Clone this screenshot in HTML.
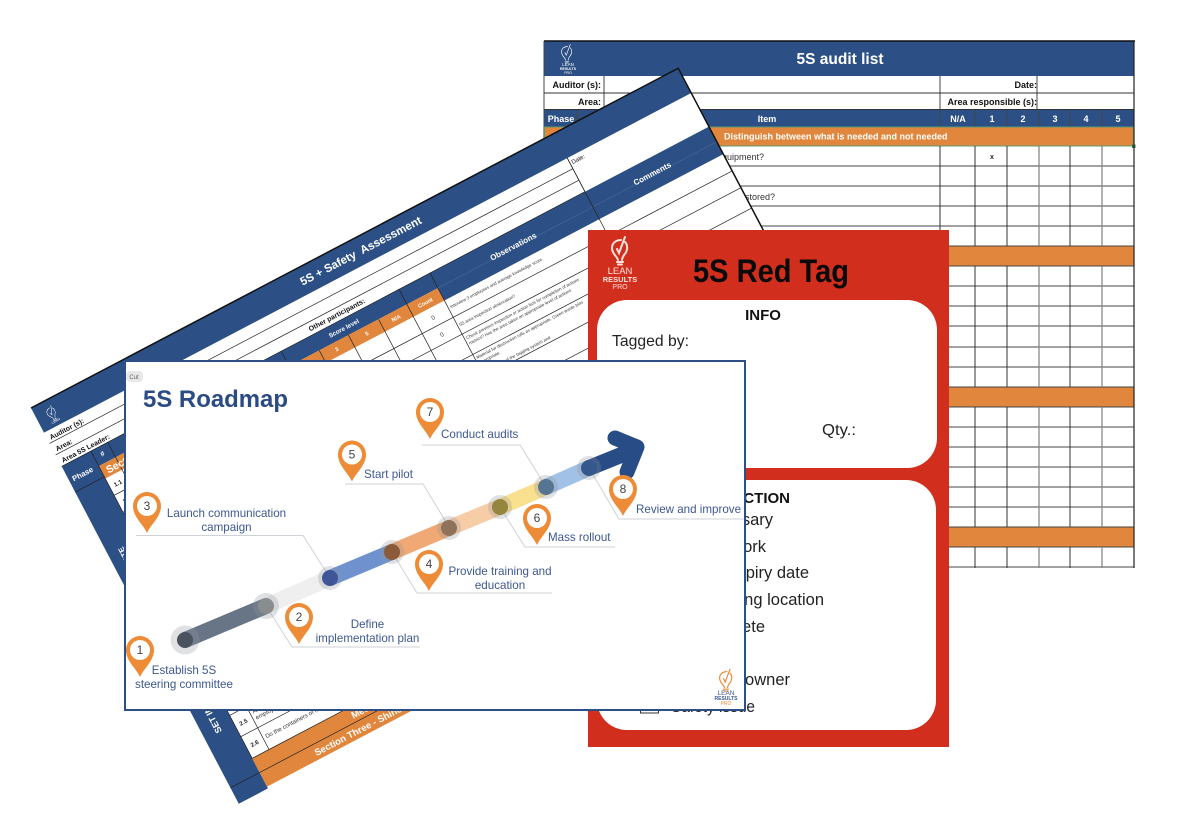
<!DOCTYPE html>
<html><head><meta charset="utf-8"><style>
html,body{margin:0;padding:0;background:#fff;width:1200px;height:838px;overflow:hidden}
svg{display:block;filter:blur(.35px)}
text{font-family:"Liberation Sans",sans-serif}
.rm{font-size:11.6px;fill:#3d5791}
.n{font-size:12px;fill:#444;text-anchor:middle}
.tag{font-size:16.5px;fill:#222;text-anchor:end}
.a{font-size:9px;font-weight:bold;fill:#111;text-anchor:end}
.h{font-size:9px;font-weight:bold;fill:#fff;text-anchor:middle}
.o{font-size:4.4px;fill:#333}
</style></head><body>
<svg width="1200" height="838" viewBox="0 0 1200 838" xmlns="http://www.w3.org/2000/svg">
<defs>
<g id="pin"><path d="M0 27C-4 18-14 11-14 0A14 14 0 1 1 14 0C14 11 4 18 0 27Z" fill="#ed8b36"/><circle r="10" fill="#fff"/></g>
<g id="bulb" fill="none" stroke-linecap="round"><path d="M-2 12C-3 8-8 6-8 0C-8-5-4-8 1-8M5-6C8-3 8 3 4 7C3 9 2 10 2 12M-3 1L-1 5L5-11"/><path d="M-3 14H3M-2 16.500H2"/></g>
</defs>

<!-- audit sheet -->
<g>
<rect x="544" y="41" width="590" height="526" fill="#fff"/>
<rect x="544" y="41" width="590" height="35" fill="#2c5085"/>
<rect x="544" y="109.500" width="590" height="17.500" fill="#2c5085"/>
<path d="M544 41H1135" stroke="#111" stroke-width="1.500"/>
<use href="#bulb" x="567" y="52" stroke="#fff" stroke-width="1" transform="translate(187 17) scale(.67)"/>
<text x="568" y="66" font-size="4.500" fill="#fff" text-anchor="middle">LEAN</text>
<text x="568" y="70" font-size="3.500" font-weight="bold" fill="#fff" text-anchor="middle">RESULTS</text>
<text x="568" y="74" font-size="3.500" fill="#fff" text-anchor="middle">PRO</text>
<text x="840" y="64" font-size="15.500" font-weight="bold" fill="#fff" text-anchor="middle">5S audit list</text>
<path d="M544 41V138M604 76V109M940 76V109M1037 76V109M577 109V127M940 109V127M975 109V127M1007 109V127M1039 109V127M1070 109V127M1102 109V127" stroke="#444" stroke-width="1" fill="none"/>
<path d="M544 93H1134M544 109.500H1134" stroke="#333" stroke-width="1"/>
<text class="a" x="601" y="88">Auditor (s):</text>
<text class="a" x="601" y="105">Area:</text>
<text class="a" x="1037" y="88">Date:</text>
<text class="a" x="1037" y="105">Area responsible (s):</text>
<text class="h" x="561" y="122">Phase</text>
<text class="h" x="767" y="122">Item</text>
<text class="h" x="958" y="122">N/A</text>
<text class="h" x="992" y="122">1</text>
<text class="h" x="1023" y="122">2</text>
<text class="h" x="1055" y="122">3</text>
<text class="h" x="1086" y="122">4</text>
<text class="h" x="1118" y="122">5</text>
<g fill="#e0873d" stroke="#3f3020" stroke-width=".8">
<rect x="940" y="246" width="194" height="20"/>
<rect x="940" y="387" width="194" height="20"/>
<rect x="940" y="527" width="194" height="20"/>
</g>
<rect x="544.500" y="127" width="589" height="19" fill="#e0873d" stroke="#5d9a6e" stroke-width="1"/>
<rect x="1132" y="144.500" width="3.500" height="3.500" fill="#2f7d4b"/>
<text x="724" y="139.500" font-size="9" font-weight="bold" fill="#fff">Distinguish between what is needed and not needed</text>
<path d="M700 166H1134M700 186H1134M700 206H1134M700 226H1134M700 246H1134M940 266H1134M940 286H1134M940 306H1134M940 326H1134M940 347H1134M940 367H1134M940 387H1134M940 407H1134M940 427H1134M940 447H1134M940 467H1134M940 487H1134M940 507H1134M940 527H1134M940 547H1134M940 567H1134" stroke="#444" stroke-width="1"/>
<path d="M940 146V246M975 146V246M1007 146V246M1070 146V246M975 266V387M1007 266V387M1070 266V387M975 407V527M1007 407V527M1070 407V527M975 547V568M1007 547V568M1070 547V568" stroke="#333" stroke-width="1" fill="none"/>
<path d="M1039 146V246M1102 146V246M1039 266V387M1102 266V387M1039 407V527M1102 407V527M1039 547V568M1102 547V568" stroke="#888" stroke-width="1.300" fill="none"/>
<path d="M1134 41V568" stroke="#222" stroke-width="1.200"/>
<text x="764" y="160" font-size="9" fill="#333" text-anchor="end">equipment?</text>
<text x="775" y="200" font-size="9" fill="#333" text-anchor="end">stored?</text>
<text x="992" y="159" font-size="7" font-weight="bold" fill="#222" text-anchor="middle">x</text>
</g>

<!-- rotated assessment sheet -->
<g transform="translate(31 408) rotate(-27.7)">
<rect width="731" height="447" fill="#fff"/>
<rect width="731" height="28" fill="#2c5085"/>
<rect x="0" y="28" width="33" height="38" fill="#fff"/>
<rect x="0" y="66" width="33" height="381" fill="#2c5085"/>
<rect x="33" y="66" width="698" height="17" fill="#2c5085"/>
<rect x="416" y="83" width="315" height="14" fill="#2c5085"/>
<rect x="33" y="83" width="383" height="14" fill="#e0873d" />
<rect x="33" y="413" width="698" height="32" fill="#e0873d"/>
<path d="M0 0H731V447" stroke="#111" stroke-width="1.500" fill="none"/>
<path d="M0 40H591M0 53H591M0 66H591M591 28V66" stroke="#222" stroke-width=".7" fill="none"/>
<path d="M33 116H731M33 135H731M33 158H731M33 183H731M33 206H731M33 230H731M33 254H731M33 278H731M33 302H731M33 326H731M33 340.500H731M33 364.500H731M33 388.500H731M33 413H731M0 429H731" stroke="#222" stroke-width=".7" fill="none"/>
<path d="M33 66V97M0 95H33M33 97V413M52 66V413M248 66V413M282 83V413M315 83V413M349 83V413M381 66V413M416 66V413M591 28V413" stroke="#222" stroke-width=".7" fill="none"/>
<rect x="258" y="53.500" width="112" height="12" fill="#fff"/>
<g transform="translate(16 13) scale(.55)"><use href="#bulb" stroke="#fff" stroke-width="1"/></g>
<text x="16" y="24" font-size="3.500" fill="#fff" text-anchor="middle">LEAN</text>
<text x="365" y="18" font-size="11.500" font-weight="bold" fill="#fff" text-anchor="middle" xml:space="preserve">5S + Safety  Assessment</text>
<text x="593" y="36" font-size="6" fill="#111">Date:</text>
<text x="3" y="37.500" font-size="7" font-weight="bold" fill="#111">Auditor (s):</text>
<text x="3" y="50.500" font-size="7" font-weight="bold" fill="#111">Area:</text>
<text x="3" y="63.500" font-size="7" font-weight="bold" fill="#111">Area 5S Leader:</text>
<text x="314" y="62" font-size="7" font-weight="bold" fill="#111" text-anchor="middle">Other participants:</text>
<text x="15" y="85" font-size="7.600" font-weight="bold" fill="#fff" text-anchor="middle">Phase</text>
<text x="42" y="76" font-size="7" font-weight="bold" fill="#fff" text-anchor="middle">#</text>
<text x="38" y="94" font-size="10.500" font-weight="bold" fill="#fff">Section One - Sort</text>
<text x="314" y="77" font-size="6.300" font-weight="bold" fill="#fff" text-anchor="middle">Score level</text>
<text x="298" y="92" font-size="5.500" font-weight="bold" fill="#fff" text-anchor="middle">3</text>
<text x="332" y="92" font-size="5.500" font-weight="bold" fill="#fff" text-anchor="middle">5</text>
<text x="365" y="92" font-size="5.500" font-weight="bold" fill="#fff" text-anchor="middle">N/A</text>
<text x="398" y="92" font-size="5.500" font-weight="bold" fill="#fff" text-anchor="middle">Count</text>
<text x="502" y="84" font-size="8" font-weight="bold" fill="#fff" text-anchor="middle">Observations</text>
<text x="659" y="84" font-size="8" font-weight="bold" fill="#fff" text-anchor="middle">Comments</text>
<text x="398" y="109" font-size="6" fill="#333" text-anchor="middle">0</text>
<text x="398" y="128" font-size="6" fill="#333" text-anchor="middle">0</text>
<text x="42" y="109" font-size="6" font-weight="bold" fill="#222" text-anchor="middle">1.1</text>
<text x="42" y="128" font-size="6" font-weight="bold" fill="#222" text-anchor="middle">1.2</text>
<text class="o" x="418" y="107">Interview 3 employees and average knowledge score.</text>
<text class="o" x="418" y="127">5S area inspection observation?</text>
<text class="o" x="418" y="142">Check previous inspection or action lists for completion of actions</text>
<text class="o" x="418" y="148">metrics? Has the area taken an appropriate level of actions</text>
<text class="o" x="418" y="164">Material for destruction rolls as appropriate. Green waste bins</text>
<text class="o" x="418" y="170">appropriate.</text>
<text class="o" x="418" y="180">Explanation of the tagging system and</text>
<text class="o" x="418" y="186">such a process?</text>
<text class="o" x="418" y="198">Level - 5</text>
<text x="42" y="379" font-size="6" font-weight="bold" fill="#222" text-anchor="middle">2.5</text>
<text x="42" y="403" font-size="6" font-weight="bold" fill="#222" text-anchor="middle">2.6</text>
<text x="55" y="374" font-size="6" fill="#333">Are the areas clearly marked for</text>
<text x="55" y="381" font-size="6" fill="#333">employees</text>
<text x="55" y="402" font-size="6" fill="#333">Do the containers of materials have labels?</text>
<text x="141" y="425" font-size="9.500" font-weight="bold" fill="#fff">Metrics</text>
<text x="91" y="441" font-size="9.500" font-weight="bold" fill="#fff">Section Three - Shine</text>
<g transform="translate(19 375) rotate(-90)"><text font-size="9" font-weight="bold" fill="#fff">SET IN ORDER</text></g>
<g transform="translate(17 165) rotate(-90)"><text font-size="8" font-weight="bold" fill="#fff" text-anchor="end">SEPARATE</text></g>
</g>

<!-- red tag -->
<g>
<rect x="588" y="230" width="361" height="517" fill="#d22e1d"/>
<rect x="597" y="300" width="340" height="168" rx="30" fill="#fff"/>
<rect x="597" y="480" width="339" height="250" rx="30" fill="#fff"/>
<g transform="translate(620 248)"><use href="#bulb" stroke="#fbe2dc" stroke-width="2"/></g>
<text x="620" y="274" font-size="9.500" fill="#fbe2dc" text-anchor="middle">LEAN</text>
<text x="620" y="282" font-size="7.500" font-weight="bold" fill="#fbe2dc" text-anchor="middle">RESULTS</text>
<text x="620" y="289" font-size="7" fill="#fbe2dc" text-anchor="middle">PRO</text>
<text x="693" y="282" font-size="32" font-weight="bold" fill="#0a0a0a" textLength="156" lengthAdjust="spacingAndGlyphs">5S Red Tag</text>
<text x="763" y="320" font-size="15" font-weight="bold" fill="#111" text-anchor="middle">INFO</text>
<text x="612" y="346" font-size="16" fill="#222" textLength="77" lengthAdjust="spacingAndGlyphs">Tagged by:</text>
<text x="822" y="435" font-size="16" fill="#222" textLength="34" lengthAdjust="spacingAndGlyphs">Qty.:</text>
<text x="790" y="503" font-size="15" font-weight="bold" fill="#111" text-anchor="end">ACTION</text>
<text class="tag" x="773" y="525">Unnecessary</text>
<text class="tag" x="766" y="552">Rework</text>
<text class="tag" x="809" y="578">Past expiry date</text>
<text class="tag" x="824" y="605">Wrong location</text>
<text class="tag" x="765" y="632">Obsolete</text>
<text class="tag" x="790" y="685">Unknown owner</text>
<text class="tag" x="755" y="712" textLength="84" lengthAdjust="spacingAndGlyphs">Safety issue</text>
<rect x="640.500" y="700" width="18" height="13" fill="#fff" stroke="#333" stroke-width="1"/>
</g>

<!-- roadmap -->
<g>
<rect x="125" y="361" width="620" height="349" fill="#fff" stroke="#2d4f85" stroke-width="2"/>
<rect x="126" y="371" width="17" height="11" rx="4" fill="#e8e8e8"/>
<text x="134" y="379" font-size="6" fill="#666" text-anchor="middle">Cut</text>
<text x="143" y="407" font-size="24" font-weight="bold" fill="#2b4b84" textLength="145" lengthAdjust="spacingAndGlyphs">5S Roadmap</text>

<g fill="none" stroke="#cfd2d6" stroke-width="1">
<path d="M136 535.500H303L330 578"/>
<path d="M345 484H423L449 527"/>
<path d="M422 445H520L546 487"/>
<path d="M266 606L292 647H420"/>
<path d="M392 552L417 593H552"/>
<path d="M500 507L525 547H615"/>
<path d="M589 468L619 519H744"/>
</g>
<g fill="none" stroke-width="16">
<path d="M185 640L266 606" stroke="#687587"/>
<path d="M266 606L330 578" stroke="#efefef"/>
<path d="M330 578L392 552" stroke="#6f92cf"/>
<path d="M392 552L449 528" stroke="#f0a874"/>
<path d="M449 528L500 507" stroke="#f7cda8"/>
<path d="M500 507L546 487" stroke="#f8e08e"/>
<path d="M546 487L589 468" stroke="#a2c1e6"/>
<path d="M589 468L636 449" stroke="#274c86"/>
<path d="M615 438L637 447L627 472" stroke="#274c86" stroke-width="15" stroke-linecap="round" stroke-linejoin="round"/>
</g>
<g fill="#8f949b" fill-opacity=".28">
<circle cx="185" cy="640" r="14.500"/><circle cx="266" cy="606" r="13"/><circle cx="330" cy="578" r="12"/><circle cx="392" cy="552" r="12"/><circle cx="449" cy="528" r="12"/><circle cx="500" cy="507" r="12"/><circle cx="546" cy="487" r="12"/><circle cx="589" cy="468" r="12"/>
</g>
<circle cx="185" cy="640" r="8" fill="#4a525e"/>
<circle cx="266" cy="606" r="8" fill="#8a8d90"/>
<circle cx="330" cy="578" r="8" fill="#3e5597"/>
<circle cx="392" cy="552" r="8" fill="#8a5a3b"/>
<circle cx="449" cy="528" r="8" fill="#8e7259"/>
<circle cx="500" cy="507" r="8" fill="#94853f"/>
<circle cx="546" cy="487" r="8" fill="#557592"/>
<circle cx="589" cy="468" r="8" fill="#33588c"/>

<use href="#pin" x="140" y="650"/><text class="n" x="140" y="654">1</text>
<use href="#pin" x="299" y="617"/><text class="n" x="299" y="621">2</text>
<use href="#pin" x="147" y="506"/><text class="n" x="147" y="510">3</text>
<use href="#pin" x="429" y="564"/><text class="n" x="429" y="568">4</text>
<use href="#pin" x="352" y="454.500"/><text class="n" x="352" y="458.500">5</text>
<use href="#pin" x="537" y="518"/><text class="n" x="537" y="522">6</text>
<use href="#pin" x="430" y="412"/><text class="n" x="430" y="416">7</text>
<use href="#pin" x="623" y="489"/><text class="n" x="623" y="493">8</text>

<text class="rm" x="184" y="674" text-anchor="middle">Establish 5S</text>
<text class="rm" x="184" y="688" text-anchor="middle">steering committee</text>
<text class="rm" x="367.500" y="628" text-anchor="middle">Define</text>
<text class="rm" x="367.500" y="642" text-anchor="middle">implementation plan</text>
<text class="rm" x="226.500" y="517" text-anchor="middle">Launch communication</text>
<text class="rm" x="226.500" y="531" text-anchor="middle">campaign</text>
<text class="rm" x="500" y="575" text-anchor="middle">Provide training and</text>
<text class="rm" x="500" y="589" text-anchor="middle">education</text>
<text class="rm" x="364" y="478">Start pilot</text>
<text class="rm" x="548" y="541">Mass rollout</text>
<text class="rm" x="441" y="438">Conduct audits</text>
<text class="rm" x="636" y="513">Review and improve</text>

<g transform="translate(726 678) scale(.8)"><use href="#bulb" stroke="#ed8b36" stroke-width="1.500"/></g>
<text x="726" y="695" font-size="6.500" fill="#3d5791" text-anchor="middle">LEAN</text>
<text x="726" y="700" font-size="5" font-weight="bold" fill="#3d5791" text-anchor="middle">RESULTS</text>
<text x="726" y="705" font-size="5" fill="#ed8b36" text-anchor="middle">PRO</text>
</g>
</svg>
</body></html>
